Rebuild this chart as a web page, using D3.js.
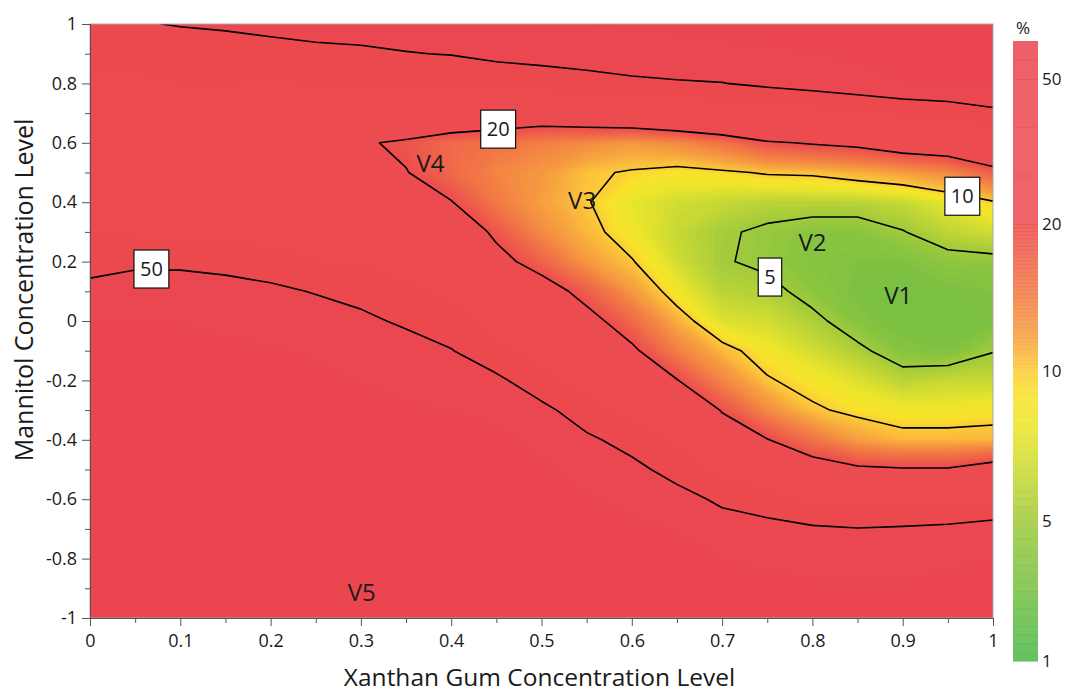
<!DOCTYPE html>
<html>
<head>
<meta charset="utf-8">
<script src="https://cdn.jsdelivr.net/npm/d3@7"></script>
<style>
  body { margin: 0; background: #fff; }
  svg text { font-family: "Open Sans", "Noto Sans", sans-serif; fill: #1a1a1a; }
</style>
</head>
<body>
<svg id="chart" width="1065" height="694"></svg>
<script>
// Grid axes: xanthan gum level (columns) and mannitol level (rows, top row = 1)
const xLevels = [0, 0.05, 0.1, 0.15, 0.2, 0.25, 0.3, 0.35, 0.4, 0.45, 0.5,
                 0.55, 0.6, 0.65, 0.7, 0.75, 0.8, 0.85, 0.9, 0.95, 1];
const yLevels = [1, 0.9, 0.8, 0.7, 0.6, 0.5, 0.4, 0.3, 0.2, 0.1, 0,
                 -0.1, -0.2, -0.3, -0.4, -0.5, -0.6, -0.7, -0.8, -0.9, -1];

// Response surface (%) — one row per mannitol level, one entry per xanthan level
const responseRows = [
  [47, 49.3, 50.5, 51.5, 53, 54, 55, 56, 57, 58, 59, 60, 61, 62, 63, 64, 65, 66, 67, 68, 69],
  [42, 43, 45, 45, 46, 47.5, 48, 49.5, 50.5, 53, 54, 55, 56, 57, 58, 59, 60, 61, 62, 63, 64],
  [38, 38, 40, 40, 39, 40, 40, 40, 40, 42, 44, 46, 48, 49, 49.7, 52.5, 55, 58, 60, 61, 63],
  [35, 34, 35, 34, 33, 33, 30, 28, 26, 25, 24, 25.5, 27, 29, 31, 33, 35, 37, 41, 43, 47],
  [33, 31, 31, 30, 29, 28, 20.7, 19, 17, 16, 15, 14, 13, 14, 16, 19.3, 20.5, 21.5, 24, 25, 28],
  [33, 31, 30, 28, 27, 25, 21.5, 20.2, 17, 14.5, 13, 10.5, 9.7, 9, 9.5, 10.3, 10.5, 11.5, 12.5, 14, 18],
  [35, 33, 32, 30, 28, 25, 24, 23, 20.2, 15.5, 12.5, 10.2, 8, 7, 6.5, 6, 6, 6, 6.5, 8, 9.7],
  [39, 38, 37, 36, 34, 30, 30, 28, 25, 18.8, 14, 11, 8.5, 6.5, 5.3, 4.6, 4.0, 4, 4.9, 6.2, 7],
  [45, 48, 48, 47.5, 45, 40, 39, 35, 31, 22, 17.5, 13, 10.2, 7, 5.2, 4.5, 3.8, 3.5, 3.5, 4.2, 4.3],
  [54, 55, 55, 53, 52, 49.4, 47, 42, 38, 28, 23, 18, 13, 8.5, 6, 5.7, 4.2, 3.3, 3.0, 3.3, 3.5],
  [60, 60, 60, 58, 57, 55, 52, 48.5, 44, 35, 29, 22, 17, 11.5, 7.5, 7, 5.6, 3.8, 3.0, 3.0, 3.3],
  [64, 63, 63, 62, 61, 59, 57, 54, 50.5, 42, 36, 29, 21, 15, 11, 8.6, 7, 5.5, 3.8, 3.5, 4.9],
  [66, 66, 65, 65, 64, 62, 60, 58, 56, 52.5, 43, 36, 28, 20.2, 14.5, 10.3, 8.8, 7.5, 6, 6.5, 6.5],
  [68, 68, 67, 67, 66, 65, 63, 61, 60, 58, 53, 44, 35, 29, 19.5, 14, 10.5, 9.2, 8.5, 8.5, 9],
  [69, 69, 69, 68, 68, 67, 65, 64, 63, 62, 58, 52, 46, 38, 25, 20.2, 16, 12.5, 11, 11, 11],
  [70, 70, 70, 69, 69, 68, 67, 66, 65, 64, 62, 57, 53, 46, 36, 29, 23, 21, 20.5, 20.5, 23],
  [70, 70, 70, 70, 70, 69, 68, 67, 66, 66, 64, 61, 58, 54, 48, 45, 35, 34, 34, 34, 36],
  [71, 71, 71, 71, 70, 70, 69, 68, 67, 67, 66, 64, 62, 60, 55, 53, 52, 50.5, 51.5, 53, 56],
  [71, 71, 71, 71, 71, 71, 70, 69, 68, 68, 67, 66, 64, 63, 60, 59, 58, 58, 58, 59, 60],
  [72, 72, 72, 72, 71, 71, 71, 70, 69, 69, 68, 67, 66, 65, 63, 62, 61, 61, 61, 62, 62],
  [72, 72, 72, 72, 72, 72, 71, 71, 70, 70, 69, 68, 67, 66, 65, 64, 63, 63, 63, 64, 64]
];

// Iso-lines drawn in black, and the colour legend's labelled values
const contourLevels = [5, 10, 20, 50];
const legendTicks = [1, 5, 10, 20, 50];
const legendTop = 70;

// Colour ramp (% -> colour)
const colorStops = [1, 3, 4, 5, 6.5, 8, 9, 10, 12, 15, 18, 20, 70];
const colorHex = ["#4db848", "#79c043", "#8cc53f", "#a3cb3b", "#c8d935", "#ebe52b", "#f8e32b",
                  "#fbc93a", "#f7a43f", "#f27d45", "#ee5e4b", "#ec4b4f", "#eb4550"];

// Inline labels on the iso-lines and region names (data coordinates)
const lineLabels = [
  { level: 50, x: 0.068, y: 0.175 },
  { level: 20, x: 0.452, y: 0.646 },
  { level: 10, x: 0.966, y: 0.42 },
  { level: 5,  x: 0.753, y: 0.148 }
];
const regionNames = ["V1", "V2", "V3", "V4", "V5"];
const regionX = [0.895, 0.8, 0.545, 0.377, 0.301];
const regionY = [0.084, 0.263, 0.404, 0.531, -0.914];

const xTicks = [0, 0.1, 0.2, 0.3, 0.4, 0.5, 0.6, 0.7, 0.8, 0.9, 1];
const yTicks = [-1, -0.8, -0.6, -0.4, -0.2, 0, 0.2, 0.4, 0.6, 0.8, 1];

// ---------------------------------------------------------------------------
const svg = d3.select("#chart");
const box = { left: 90, right: 993, top: 24, bottom: 618 };

const x = d3.scaleLinear().domain([0, 1]).range([box.left, box.right]);
const y = d3.scaleLinear().domain([-1, 1]).range([box.bottom, box.top]);
const color = d3.scaleLinear().domain(colorStops).range(colorHex)
  .interpolate(d3.interpolateRgb).clamp(true);

const nx = xLevels.length, ny = yLevels.length;
const values = responseRows.flat();
const stepX = xLevels[1] - xLevels[0];
const stepY = yLevels[1] - yLevels[0];

// d3.contours puts grid node i at coordinate i + 0.5
const gridToPx = d3.geoTransform({
  point(gx, gy) {
    this.stream.point(x(xLevels[0] + (gx - 0.5) * stepX),
                      y(yLevels[0] + (gy - 0.5) * stepY));
  }
});
const path = d3.geoPath(gridToPx);

svg.append("defs").append("clipPath").attr("id", "plotClip")
  .append("rect")
  .attr("x", box.left).attr("y", box.top)
  .attr("width", box.right - box.left).attr("height", box.bottom - box.top);

const plotG = svg.append("g").attr("clip-path", "url(#plotClip)");

// Filled bands
const fillThresholds = d3.range(1, 20, 0.25).concat([20, 30, 40, 50, 60]);
const bands = d3.contours().size([nx, ny]).thresholds(fillThresholds)(values);
plotG.append("g").selectAll("path").data(bands).join("path")
  .attr("d", path)
  .attr("fill", d => color(d.value))
  .attr("stroke", d => color(d.value))
  .attr("stroke-width", 0.6);

// Iso-lines
const lines = d3.contours().size([nx, ny]).thresholds(contourLevels)(values);
plotG.append("g").selectAll("path").data(lines).join("path")
  .attr("d", path)
  .attr("fill", "none")
  .attr("stroke", "#000")
  .attr("stroke-width", 1.6)
  .attr("stroke-linejoin", "round");

// Frame
svg.append("rect")
  .attr("x", box.left).attr("y", box.top)
  .attr("width", box.right - box.left).attr("height", box.bottom - box.top)
  .attr("fill", "none").attr("stroke", "#a8a8a8").attr("stroke-width", 1);

// Axes (plain hyphen for negative values)
const fmt = d => (d === 0 ? "0" : String(d));
const xAxis = svg.append("g").attr("transform", `translate(0,${box.bottom})`);
xAxis.call(d3.axisBottom(x).tickValues(xTicks).tickFormat(fmt).tickSize(8).tickPadding(8));
const xMinor = svg.append("g").attr("transform", `translate(0,${box.bottom})`);
xMinor.call(d3.axisBottom(x).tickValues(xTicks.slice(0, -1).map(v => v + 0.05)).tickFormat("").tickSize(5));

const yAxis = svg.append("g").attr("transform", `translate(${box.left},0)`);
yAxis.call(d3.axisLeft(y).tickValues(yTicks).tickFormat(fmt).tickSize(8).tickPadding(5));
const yMinor = svg.append("g").attr("transform", `translate(${box.left},0)`);
yMinor.call(d3.axisLeft(y).tickValues(yTicks.slice(0, -1).map(v => +(v + 0.1).toFixed(1))).tickFormat("").tickSize(5));

[xAxis, xMinor, yAxis, yMinor].forEach(g => {
  g.select(".domain").attr("stroke", "#555");
  g.selectAll(".tick line").attr("stroke", "#555");
  g.selectAll(".tick text").attr("font-size", 18).attr("fill", "#1a1a1a")
    .attr("font-family", '"Open Sans", sans-serif');
});

// Axis titles
svg.append("text")
  .attr("x", (box.left + box.right) / 2 - 2).attr("y", 686)
  .attr("text-anchor", "middle").attr("font-size", 24.5)
  .text("Xanthan Gum Concentration Level");
svg.append("text")
  .attr("transform", "translate(33,290) rotate(-90)")
  .attr("text-anchor", "middle").attr("font-size", 25)
  .text("Mannitol Concentration Level");

// Line labels
const lab = svg.append("g").selectAll("g").data(lineLabels).join("g")
  .attr("transform", d => `translate(${x(d.x)},${y(d.y)})`);
lab.append("text")
  .attr("text-anchor", "middle").attr("dy", "0.36em").attr("font-size", 20)
  .text(d => d.level);
lab.each(function () {
  const t = d3.select(this).select("text");
  const w = t.node().getComputedTextLength();
  d3.select(this).insert("rect", "text")
    .attr("x", -w / 2 - 6).attr("y", -19).attr("width", w + 12).attr("height", 38)
    .attr("fill", "#fff").attr("stroke", "#111").attr("stroke-width", 1.2);
});

// Region names
svg.append("g").selectAll("text").data(regionNames).join("text")
  .attr("x", (d, i) => x(regionX[i])).attr("y", (d, i) => y(regionY[i]))
  .attr("text-anchor", "middle").attr("dy", "0.35em").attr("font-size", 24)
  .text(d => d);

// Colour legend
const bar = { left: 1013, width: 25 };
const barY = d3.scaleLinear().domain([1, 5, 10, 20, 50, legendTop])
  .range([661, 521, 371, 224, 79, 41]);
const barEdges = fillThresholds.concat([legendTop]);
const legend = svg.append("g");
legend.selectAll("rect").data(d3.pairs(barEdges)).join("rect")
  .attr("x", bar.left).attr("width", bar.width)
  .attr("y", d => barY(d[1]))
  .attr("height", d => barY(d[0]) - barY(d[1]) + 0.6)
  .attr("fill", d => color(d[0]))
  .attr("opacity", 0.86);
legend.selectAll("text.tick").data(legendTicks).join("text")
  .attr("class", "tick")
  .attr("x", bar.left + bar.width + 4).attr("y", d => barY(d))
  .attr("dy", "0.35em").attr("font-size", 17)
  .text(d => d);
legend.append("text")
  .attr("x", bar.left + 10).attr("y", 28).attr("dy", "0.35em")
  .attr("text-anchor", "middle").attr("font-size", 17)
  .text("%");
</script>
</body>
</html>
